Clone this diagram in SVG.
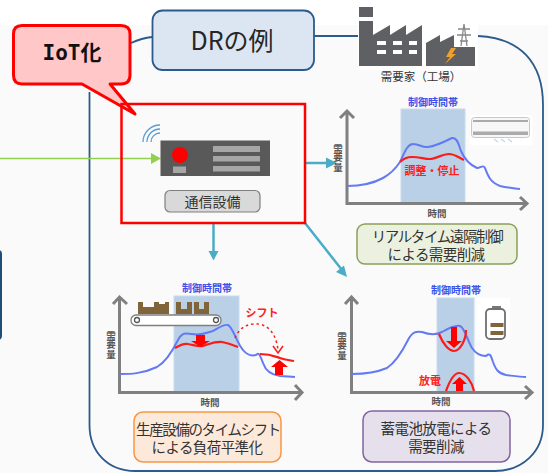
<svg xmlns="http://www.w3.org/2000/svg" width="548" height="473" viewBox="0 0 548 473">
<style>
text{font-family:"Noto Sans CJK JP","Liberation Sans",sans-serif;text-anchor:middle}
.lbl{font-size:14.500px;fill:#333;letter-spacing:-0.600px}
.kl{font-size:14.500px;fill:#333;letter-spacing:-1.400px}
.band{fill:#b9d0e6;stroke:#c9dcee;stroke-width:1}
.axis{fill:none;stroke:#808080;stroke-width:3}
.blue{fill:none;stroke:#647af5;stroke-width:2;stroke-linejoin:round}
.red{fill:none;stroke:#ff1a1a;stroke-width:2.2}
.ttl{font-size:10px;font-weight:700;fill:#3c50e8}
.ax{font-size:9.500px;font-weight:700;fill:#555}
.v{writing-mode:vertical-rl;letter-spacing:0.200px}
.rt{font-size:11px;font-weight:700;fill:#ff2020}
.teal{fill:none;stroke:#4bacc6;stroke-width:2.5}
.tealh{fill:#4bacc6}
.brown{fill:#7f6539}
.rf{fill:#ff0000}
.fac{fill:#5f6064}
.win{fill:#fff}
</style>
<rect width="548" height="473" fill="#fff"/>
<rect y="25" width="548" height="448" fill="#fafafa"/>
<rect id="left-panel" x="-8" y="250" width="10" height="90" rx="4" fill="#1f4e79"/>
<g id="connectors">
<path d="M131 43Q142 38 152 37M314 36H358M478 36C520 38 543 62 543 105V425C543 452 522 471 495 471H135C108 471 89.500 452 89.500 425V92" fill="none" stroke="#2c5a8c" stroke-width="1.800"/>
<path d="M0 158.500H152" stroke="#92d050" stroke-width="1.500" fill="none"/>
<path d="M151 153L161 158.500L151 164Z" fill="#92d050"/>
<path class="teal" d="M305 163H328"/><path class="tealh" d="M326 157.500L337 163L326 168.500Z"/>
<path class="teal" d="M213.500 223V252"/><path class="tealh" d="M208.500 251H218.500L213.500 260.500Z"/>
<path class="teal" d="M305 223L342 270"/><path class="tealh" d="M347 277L336 272L344 265.500Z"/>
</g>
<g id="node-dr">
<rect x="152.500" y="10.500" width="161.500" height="59.500" rx="10" fill="#dce6f2" stroke="#2c5a8c" stroke-width="1.800"/>
<text x="232" y="50" font-size="25" fill="#262626">DRの例</text>
</g>
<g id="node-iot">
<path d="M22 25.500H121Q130 25.500 130 34V75Q130 84 121 84H110L135 114L82 84H22Q13.500 84 13.500 75V34Q13.500 25.500 22 25.500Z" fill="#ffc7c7" stroke="#ff0000" stroke-width="3" stroke-linejoin="round"/>
<text x="72" y="60" font-size="21" font-weight="700" fill="#111" style="font-family:'DejaVu Sans Mono','Noto Sans CJK JP',monospace">IoT化</text>
</g>
<g id="node-device">
<rect x="121.500" y="104" width="183.500" height="119" fill="none" stroke="#ff0000" stroke-width="2.500"/>
<g fill="none" stroke="#5b9bd5" stroke-width="1.300"><path d="M160 133A9 9 0 0 0 151 142"/><path d="M160 129A13 13 0 0 0 147 142"/><path d="M160 125A17 17 0 0 0 143 142"/></g>
<rect x="160.500" y="140.500" width="109.500" height="35.500" fill="#595959"/>
<circle cx="180" cy="155" r="8" fill="#ff0000"/>
<rect x="173" y="166.500" width="13" height="6.500" fill="#a6a6a6"/>
<rect x="213" y="146" width="47" height="6" fill="#a6a6a6"/><rect x="213" y="156" width="47" height="5.500" fill="#a6a6a6"/><rect x="213" y="166" width="47" height="5.500" fill="#a6a6a6"/>
<rect x="165" y="190.500" width="95" height="21.500" rx="5" fill="#d9d9d9" stroke="#7f7f7f" stroke-width="1.200"/>
<text x="212.500" y="207" font-size="14" fill="#333">通信設備</text>
</g>
<g id="node-factory">
<rect x="358" y="5" width="120" height="65" fill="#fff"/>
<rect class="fac" x="359" y="7" width="14" height="10"/>
<path class="fac" d="M359 21H373V35L390 25V35L406 25V35L422 25V66H359Z"/>
<g class="win"><rect x="377" y="41" width="9" height="4"/><rect x="393" y="41" width="9" height="4"/><rect x="409" y="41" width="8" height="4"/><rect x="377" y="50" width="9" height="4"/><rect x="393" y="50" width="9" height="4"/><rect x="409" y="50" width="8" height="4"/></g>
<path class="fac" d="M426 66V43L440 35V42L454 35V47H475V66Z"/>
<path d="M451 48L446 57H450L445 64L456 54H452L456 48Z" fill="#f0a030"/>
<path d="M461 46L464 24L467 46M458 29H470M457 35H471M460 41H468" fill="none" stroke="#888" stroke-width="1.300"/>
<text x="421" y="81" font-size="11.500" fill="#333">需要家（工場）</text>
</g>
<g id="node-chart-realtime">
<rect class="band" x="401" y="109" width="64" height="94"/>
<path class="axis" d="M340 118L347 111L354 118M347 111V203.500H526M520 197L527 203.500L520 210"/>
<text class="ttl" x="433" y="106">制御時間帯</text>
<text class="ax v" x="338" y="158">需要量</text>
<text class="ax" x="437" y="217">時間</text>
<path class="blue" d="M347 186C360 186 372 184 383 178C392 173 396 168 400 162C404 154 407 144 413 144C420 144 422 148 428 147C436 146 444 142 452 138C458 137 459 147 461 151C464 158 468 164 477 168C481 168 483 164 485 168C488 176 490 182 500 186C508 188 514 188 520 189"/>
<path class="red" d="M400 162C404 158 408 157 412 157C420 157 424 159 430 159C436 159 442 154 449 154C455 154 459 158 464 160"/>
<text class="rt" x="432" y="175">調整・停止</text>
<rect x="470" y="115" width="62" height="30" fill="#fff"/>
<rect x="471.500" y="117.500" width="58" height="20" rx="3" fill="#f7f7f7" stroke="#c8c8c8" stroke-width="1"/>
<rect x="473" y="120" width="55" height="2" fill="#aaa"/><rect x="473" y="131.500" width="55" height="3.500" fill="#aaa"/>
<path d="M494 139L498 142M501 139L505 142M508 139L512 142" fill="none" stroke="#c5d5e8" stroke-width="1.200"/>
<rect x="357" y="224" width="160" height="40" rx="8" fill="#ebf1de" stroke="#8aa05a" stroke-width="1.500"/>
<text class="kl" x="437" y="242">リアルタイム遠隔制御</text><text class="lbl" x="436" y="260">による需要削減</text>
</g>
<g id="node-chart-shift">
<rect class="band" x="174" y="296" width="65" height="96"/>
<path class="axis" d="M113 304L119.500 297L127 304M119.500 297V392.500H300M295 385L302 392.500L295 400"/>
<text class="ttl" x="207" y="292">制御時間帯</text>
<text class="ax v" x="111" y="345">需要量</text>
<text class="ax" x="210" y="406">時間</text>
<path class="brown" d="M138 302H143V307H154V302H159V304H165V302H169V314H138ZM176 302H181V309H187V302H192V314H176ZM194 302H199V309H204V302H209V314H194Z"/>
<rect x="131" y="315" width="90" height="10.500" rx="5" fill="#fff" stroke="#7f7f7f" stroke-width="1.300"/>
<circle cx="137" cy="320" r="2.500" fill="#fff" stroke="#555" stroke-width="1.300"/><circle cx="216" cy="320" r="2.500" fill="#fff" stroke="#555" stroke-width="1.300"/>
<path class="blue" d="M120 374C130 374 142 374 157 367C166 362 172 352 178 340C182 332 186 333 192 334C202 336 208 332 213 331C220 327 224 324 228 325C233 327 236 342 243 350C247 355 252 356 256 355C259 352 260 355 263 363C266 372 272 375 280 376C286 376 290 377 295 377"/>
<path class="red" d="M175 348C180 345 184 343 188 344C194 345 198 347 203 346C210 344 215 341 222 342C228 343 233 345 238 347M260 354C270 354 274 356 280 358C285 360 289 360 294 361"/>
<path class="rf" d="M196 335H205V341H210L200.500 347L191 341H196Z"/>
<path class="rf" d="M275 375V367H271L279.500 360L288 367H283V375Z"/>
<path d="M235 338C240 326 250 323 258 324C268 325 276 333 278 350" fill="none" stroke="#ff1a1a" stroke-width="1.500" stroke-dasharray="2.500 3"/>
<path d="M273 346L278 353L283 346" fill="none" stroke="#ff1a1a" stroke-width="1.500"/>
<text class="rt" x="262" y="317">シフト</text>
<rect x="134" y="412" width="147" height="50" rx="9" fill="#fde9d9" stroke="#f79646" stroke-width="1.500"/>
<text class="kl" x="208" y="435">生産設備のタイムシフト</text><text class="lbl" x="207" y="453">による負荷平準化</text>
</g>
<g id="node-chart-battery">
<rect class="band" x="437" y="298" width="37" height="94"/>
<path class="axis" d="M345 304L351.500 297L358 304M351.500 297V392.500H530M525 386L532 392.500L525 399"/>
<text class="ttl" x="456" y="294">制御時間帯</text>
<text class="ax v" x="342" y="346">需要量</text>
<text class="ax" x="441" y="405">時間</text>
<path class="blue" d="M352 374C362 374 375 373 387 368C396 362 402 352 408 340C412 332 416 331 422 332C430 335 436 335 442 332C449 328 456 325 460 326C465 328 467 340 472 348C476 354 482 356 486 356C490 352 491 356 493 362C496 370 498 373 506 375C514 376 520 377 526 377"/>
<path class="red" d="M439 334C443 344 449 351 454 351C460 351 466 340 466 330"/>
<path class="red" d="M446 391C450 380 454 373 459 373C466 373 472 382 474 391"/>
<path class="rf" d="M451 327H457V341H462L454 348L446 341H451Z"/>
<path class="rf" d="M456 391V384H452L459.500 377L467 384H463V391Z"/>
<text class="rt" x="430" y="385">放電</text>
<rect x="477" y="298" width="33" height="42" fill="#fff"/>
<rect x="492" y="306" width="9" height="4" fill="#777"/>
<rect x="486" y="309" width="19" height="30" rx="4" fill="#fff" stroke="#707070" stroke-width="1.800"/>
<rect class="brown" x="490.500" y="323" width="13" height="4"/><rect class="brown" x="490.500" y="331" width="13" height="4"/>
<rect x="363" y="411" width="147" height="51" rx="9" fill="#e6e0ec" stroke="#8064a2" stroke-width="1.500"/>
<text class="lbl" x="436" y="434">蓄電池放電による</text><text class="lbl" x="436" y="452">需要削減</text>
</g>
</svg>
